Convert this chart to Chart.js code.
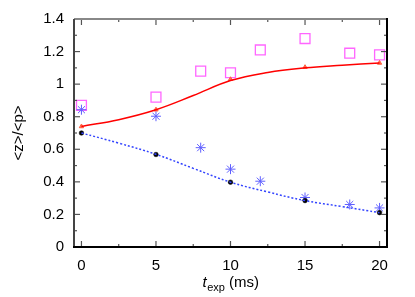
<!DOCTYPE html>
<html>
<head>
    <title>z/p vs exposure time</title>
    <script src="https://cdn.jsdelivr.net/npm/chart.js"></script>
    <style>
        body { margin: 0; padding: 0; background: white; }
        #wrap { width: 415px; height: 297px; }
    </style>
</head>
<body>
    <div id="wrap"><canvas id="chart" width="415" height="297"></canvas></div>

    <script>
        // values
        const squareX = [0, 5, 8, 10, 12, 15, 18, 20];
        const squareY = [0.87, 0.92, 1.08, 1.07, 1.21, 1.28, 1.19, 1.18];

        const starX = [0, 5, 8, 10, 12, 15, 18, 20];
        const starY = [0.843, 0.803, 0.61, 0.478, 0.404, 0.304, 0.261, 0.24];

        const dotX = [0, 5, 10, 15, 20];
        const dotY = [0.70, 0.568, 0.398, 0.285, 0.211];

        const triX = [0, 5, 10, 15, 20];
        const triY = [0.74, 0.843, 1.03, 1.104, 1.13];

        // fitted curves, read at 2.5 ms steps
        const curveX = [0, 2.5, 5, 7.5, 10, 12.5, 15, 17.5, 20];
        const redCurve = [0.74, 0.782, 0.843, 0.93, 1.022, 1.072, 1.1, 1.116, 1.13];
        const blueCurve = [0.70, 0.638, 0.569, 0.483, 0.398, 0.338, 0.285, 0.248, 0.211];

        const xTicks = [0, 5, 10, 15, 20];
        const xMinor = [2.5, 7.5, 12.5, 17.5];
        const yTicks = [0, 0.2, 0.4, 0.6, 0.8, 1, 1.2, 1.4];
        const yMinor = [0.1, 0.3, 0.5, 0.7, 0.9, 1.1, 1.3];

        const pts = (xs, ys) => xs.map((x, i) => ({ x: x, y: ys[i] }));

        const FONT = '"Liberation Sans", Arial, sans-serif';

        // frame with inward ticks on all four sides, plus the x title with subscript
        const framePlugin = {
            id: 'frame',
            afterDraw(chart) {
                const ctx = chart.ctx;
                const a = chart.chartArea;
                const xs = chart.scales.x, ys = chart.scales.y;
                ctx.save();
                ctx.lineCap = 'butt';

                const tick = (x1, y1, x2, y2, color) => {
                    ctx.strokeStyle = color;
                    ctx.lineWidth = 1.2;
                    ctx.beginPath();
                    ctx.moveTo(x1, y1);
                    ctx.lineTo(x2, y2);
                    ctx.stroke();
                };
                xTicks.forEach(v => {
                    const px = xs.getPixelForValue(v);
                    tick(px, a.bottom, px, a.bottom - 6, '#555');
                    tick(px, a.top, px, a.top + 6, '#555');
                });
                xMinor.forEach(v => {
                    const px = xs.getPixelForValue(v);
                    tick(px, a.bottom, px, a.bottom - 3, '#555');
                    tick(px, a.top, px, a.top + 3, '#555');
                });
                yTicks.forEach(v => {
                    const py = ys.getPixelForValue(v);
                    tick(a.left, py, a.left + 6, py, '#555');
                    tick(a.right, py, a.right - 6, py, '#555');
                });
                yMinor.forEach(v => {
                    const py = ys.getPixelForValue(v);
                    tick(a.left, py, a.left + 3, py, '#555');
                    tick(a.right, py, a.right - 3, py, '#555');
                });

                // border
                ctx.lineWidth = 2;
                ctx.strokeStyle = '#888';
                ctx.beginPath(); ctx.moveTo(a.left, a.top); ctx.lineTo(a.right, a.top); ctx.stroke();
                ctx.strokeStyle = '#444';
                ctx.beginPath(); ctx.moveTo(a.left, a.top); ctx.lineTo(a.left, a.bottom); ctx.stroke();
                ctx.strokeStyle = '#000';
                ctx.beginPath(); ctx.moveTo(a.left - 1, a.bottom); ctx.lineTo(a.right + 1, a.bottom); ctx.stroke();
                ctx.beginPath(); ctx.moveTo(a.right, a.top - 1); ctx.lineTo(a.right, a.bottom); ctx.stroke();

                // x axis title: t_exp (ms)
                ctx.fillStyle = '#000';
                ctx.textBaseline = 'alphabetic';
                ctx.textAlign = 'left';
                const main = '15px ' + FONT;
                const ital = 'italic 15px ' + FONT;
                const sub = '11px ' + FONT;
                ctx.font = ital; const wT = ctx.measureText('t').width;
                ctx.font = sub; const wE = ctx.measureText('exp').width;
                ctx.font = main; const wM = ctx.measureText(' (ms)').width;
                let x0 = (a.left + a.right) / 2 - (wT + wE + wM) / 2;
                const base = 287;
                ctx.font = ital; ctx.fillText('t', x0, base); x0 += wT + 0.5;
                ctx.font = sub; ctx.fillText('exp', x0, base + 4); x0 += wE;
                ctx.font = main; ctx.fillText(' (ms)', x0, base);
                ctx.restore();
            }
        };

        new Chart(document.getElementById('chart'), {
            type: 'scatter',
            data: {
                datasets: [
                    {
                        label: 'fit red',
                        data: pts(curveX, redCurve),
                        showLine: true,
                        borderColor: '#ff0000',
                        borderWidth: 1.5,
                        pointRadius: 0,
                        tension: 0.4,
                        fill: false
                    },
                    {
                        label: 'fit blue',
                        data: pts(curveX, blueCurve),
                        showLine: true,
                        borderColor: '#3344ff',
                        borderWidth: 1.5,
                        borderDash: [2, 2],
                        pointRadius: 0,
                        tension: 0.4,
                        fill: false
                    },
                    {
                        label: 'triangles',
                        data: pts(triX, triY),
                        pointStyle: 'triangle',
                        pointRadius: 2.5,
                        backgroundColor: '#ff7050',
                        borderColor: '#ff6040',
                        borderWidth: 1
                    },
                    {
                        label: 'dots',
                        data: pts(dotX, dotY),
                        pointStyle: 'circle',
                        pointRadius: 2.3,
                        backgroundColor: '#000',
                        borderColor: '#000',
                        borderWidth: 0.5
                    },
                    {
                        label: 'stars',
                        data: pts(starX, starY),
                        pointStyle: 'star',
                        pointRadius: 5,
                        borderColor: '#5f5fff',
                        backgroundColor: '#5f5fff',
                        borderWidth: 1
                    },
                    {
                        label: 'squares',
                        data: pts(squareX, squareY),
                        pointStyle: 'rect',
                        pointRadius: 7,
                        borderColor: '#ff66ff',
                        backgroundColor: 'rgba(0,0,0,0)',
                        borderWidth: 1.3
                    }
                ]
            },
            options: {
                responsive: false,
                animation: false,
                layout: { padding: { left: 0, right: 28, top: 15, bottom: 0 } },
                plugins: {
                    legend: { display: false },
                    tooltip: { enabled: false }
                },
                scales: {
                    x: {
                        type: 'linear',
                        min: -0.5,
                        max: 20.5,
                        afterBuildTicks: s => { s.ticks = xTicks.map(v => ({ value: v })); },
                        afterFit: s => { s.height = 50; },
                        grid: { display: false, drawTicks: false },
                        border: { display: false },
                        ticks: {
                            color: '#000',
                            font: { family: FONT, size: 15 },
                            padding: 10,
                            maxRotation: 0
                        }
                    },
                    y: {
                        type: 'linear',
                        min: 0,
                        max: 1.4,
                        afterBuildTicks: s => { s.ticks = yTicks.map(v => ({ value: v })); },
                        afterFit: s => { s.width = 74; },
                        grid: { display: false, drawTicks: false },
                        border: { display: false },
                        ticks: {
                            color: '#000',
                            font: { family: FONT, size: 15 },
                            padding: 10,
                            callback: v => String(Number(v.toFixed(1)))
                        },
                        title: {
                            display: true,
                            text: '<z>/<p>',
                            color: '#000',
                            font: { family: FONT, size: 15 },
                            padding: { top: 10, bottom: 0 }
                        }
                    }
                }
            },
            plugins: [framePlugin]
        });
    </script>
</body>
</html>
